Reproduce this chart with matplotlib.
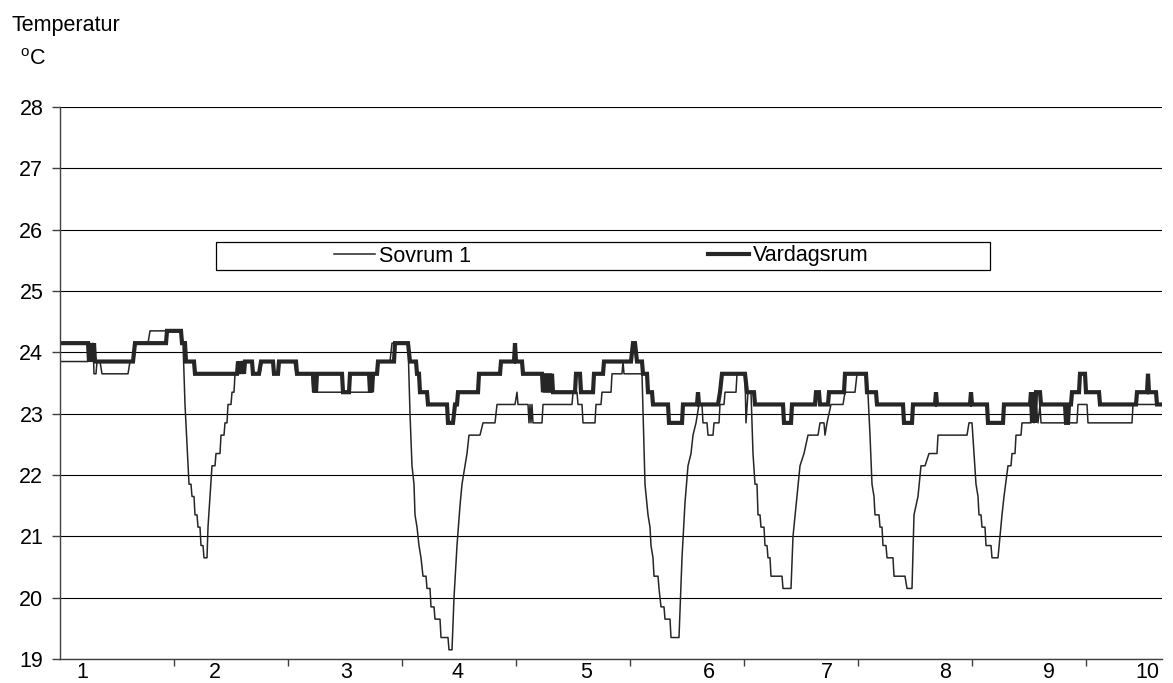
import numpy as np
import matplotlib.pyplot as plt
from matplotlib.patches import Rectangle

plt.rcParams['font.family'] = ['Liberation Sans', 'DejaVu Sans']

# Mätserier: (mätpunkt, temperatur °C), brytpunkter i loggningen
sovrum_t = [
    60, 88, 90, 91, 93, 94, 96, 97, 100, 102, 128, 130, 134, 135, 148, 150,
    181, 183, 185, 188, 189, 191, 192, 194, 195, 197, 198, 200, 201, 203, 204, 207,
    208, 210, 212, 215, 216, 220, 221, 224, 225, 227, 228, 231, 232, 234, 235, 237,
    238, 240, 241, 252, 254, 260, 262, 273, 275, 277, 279, 294, 296, 312, 313,
    372, 374, 377, 378, 390, 392, 407,
    408, 410, 412, 414, 415, 417, 419, 421, 423, 426, 427, 430, 431, 434, 435, 440,
    441, 448, 449, 452, 454, 457, 460, 462, 465, 467, 469, 480, 483, 495, 497, 515,
    517, 518, 528, 529, 530, 531, 532, 533, 542, 543,
    572, 573, 577, 578, 582, 583, 595, 596, 601, 602, 611, 612, 622, 623, 624, 642,
    645, 648, 650, 651, 653, 654, 658, 659, 661, 664, 665, 670, 671, 679, 682, 685,
    688, 691, 693, 696, 699, 702, 703, 707, 708, 713, 714, 719, 720, 724, 725, 736,
    737, 745, 746, 748, 751,
    753, 755, 757, 758, 760, 761, 764, 765, 767, 768, 770, 771, 782, 783, 791, 793,
    797, 800, 804, 808, 818, 820, 824, 825, 827, 831, 843, 845, 855, 857, 867,
    870, 872, 874, 875, 879, 880, 882, 883, 886, 887, 893, 894, 905, 907, 912, 914,
    918, 921, 925, 929, 937, 938, 967, 969, 972,
    974, 976, 978, 979, 981, 982, 985, 986, 991, 992, 998, 1002, 1004, 1008, 1011, 1012,
    1015, 1016, 1021, 1022, 1031, 1032, 1034, 1036, 1038, 1040, 1041, 1077, 1078, 1087,
    1088, 1132, 1133, 1162,
]
sovrum_temp = [
    23.85, 23.85, 24.15, 23.85, 24.15, 23.65, 23.65, 23.85, 23.85, 23.65, 23.65, 23.85, 23.85, 24.15, 24.15, 24.35,
    24.35, 24.15, 23.15, 22.15, 21.85, 21.85, 21.65, 21.65, 21.35, 21.35, 21.15, 21.15, 20.85, 20.85, 20.65, 20.65,
    21.15, 21.65, 22.15, 22.15, 22.35, 22.35, 22.65, 22.65, 22.85, 22.85, 23.15, 23.15, 23.35, 23.35, 23.65, 23.65,
    23.85, 23.65, 23.85, 23.85, 23.65, 23.65, 23.85, 23.85, 23.65, 23.65, 23.85, 23.85, 23.65, 23.65, 23.35,
    23.35, 23.65, 23.65, 23.85, 23.85, 24.15, 24.15,
    24.15, 23.0, 22.15, 21.85, 21.35, 21.15, 20.85, 20.65, 20.35, 20.35, 20.15, 20.15, 19.85, 19.85, 19.65, 19.65,
    19.35, 19.35, 19.15, 19.15, 20.0, 20.85, 21.5, 21.85, 22.15, 22.35, 22.65, 22.65, 22.85, 22.85, 23.15, 23.15,
    23.35, 23.15, 23.15, 22.85, 23.15, 22.85, 23.15, 22.85, 22.85, 23.15,
    23.15, 23.35, 23.35, 23.15, 23.15, 22.85, 22.85, 23.15, 23.15, 23.35, 23.35, 23.65, 23.65, 23.85, 23.65, 23.65,
    21.85, 21.35, 21.15, 20.85, 20.65, 20.35, 20.35, 20.15, 19.85, 19.85, 19.65, 19.65, 19.35, 19.35, 20.65, 21.55,
    22.15, 22.35, 22.65, 22.85, 23.15, 23.15, 22.85, 22.85, 22.65, 22.65, 22.85, 22.85, 23.15, 23.15, 23.35, 23.35,
    23.65, 23.65, 22.85, 23.35, 23.35,
    22.35, 21.85, 21.85, 21.35, 21.35, 21.15, 21.15, 20.85, 20.85, 20.65, 20.65, 20.35, 20.35, 20.15, 20.15, 21.0,
    21.65, 22.15, 22.35, 22.65, 22.65, 22.85, 22.85, 22.65, 22.85, 23.15, 23.15, 23.35, 23.35, 23.65, 23.65,
    22.65, 21.85, 21.65, 21.35, 21.35, 21.15, 21.15, 20.85, 20.85, 20.65, 20.65, 20.35, 20.35, 20.15, 20.15, 21.35,
    21.65, 22.15, 22.15, 22.35, 22.35, 22.65, 22.65, 22.85, 22.85,
    22.35, 21.85, 21.65, 21.35, 21.35, 21.15, 21.15, 20.85, 20.85, 20.65, 20.65, 21.35, 21.65, 22.15, 22.15, 22.35,
    22.35, 22.65, 22.65, 22.85, 22.85, 23.15, 22.85, 23.15, 22.85, 23.15, 22.85, 22.85, 23.15, 23.15,
    22.85, 22.85, 23.15, 23.15,
]

vardag_t = [
    60, 88, 89, 90, 91, 92, 93, 94, 95, 133, 135, 166, 167, 181, 182, 185, 186, 194, 195,
    237, 238, 240, 241, 244, 245, 252, 253, 259, 261, 273, 274, 278, 279, 296, 297,
    313, 314, 315, 316, 317, 342, 343, 349, 350, 369, 370, 371, 372, 373, 377, 378,
    394, 395, 408, 410, 416, 417, 419, 420, 427, 428, 447, 448, 453, 455, 457, 458,
    478, 479, 500, 501, 514, 515, 516, 522, 523,
    542, 543, 544, 545, 546, 547, 548, 549, 550, 551, 552, 553,
    575, 576, 580, 581, 593, 594, 603, 604, 631, 633, 635, 637, 642, 643, 647, 648, 652, 653,
    668, 669, 682, 683, 697, 698, 699, 718, 720, 722, 745, 747, 754, 755,
    783, 784, 791, 792, 815, 816, 819, 820, 828, 829, 844, 845, 866, 867, 876, 877,
    903, 904, 912, 913, 935, 936, 937, 970, 971, 972, 987, 988, 1003, 1004,
    1030, 1031, 1032, 1033, 1035, 1036, 1040, 1041, 1065, 1066, 1068, 1069, 1071, 1072,
    1079, 1080, 1085, 1086, 1099, 1100, 1136, 1137, 1147, 1148, 1149, 1156, 1157, 1162,
]
vardag_temp = [
    24.15, 24.15, 23.85, 24.15, 23.85, 24.15, 23.85, 24.15, 23.85, 23.85, 24.15, 24.15, 24.35, 24.35, 24.15, 24.15, 23.85, 23.85, 23.65,
    23.65, 23.85, 23.65, 23.85, 23.65, 23.85, 23.85, 23.65, 23.65, 23.85, 23.85, 23.65, 23.65, 23.85, 23.85, 23.65,
    23.65, 23.35, 23.65, 23.35, 23.65, 23.65, 23.35, 23.35, 23.65, 23.65, 23.35, 23.65, 23.35, 23.65, 23.65, 23.85,
    23.85, 24.15, 24.15, 23.85, 23.85, 23.65, 23.65, 23.35, 23.35, 23.15, 23.15, 22.85, 22.85, 23.15, 23.15, 23.35,
    23.35, 23.65, 23.65, 23.85, 23.85, 24.15, 23.85, 23.85, 23.65,
    23.65, 23.35, 23.65, 23.35, 23.65, 23.35, 23.65, 23.35, 23.65, 23.35, 23.65, 23.35,
    23.35, 23.65, 23.65, 23.35, 23.35, 23.65, 23.65, 23.85, 23.85, 24.15, 24.15, 23.85, 23.85, 23.65, 23.65, 23.35, 23.35, 23.15,
    23.15, 22.85, 22.85, 23.15, 23.15, 23.35, 23.15, 23.15, 23.35, 23.65, 23.65, 23.35, 23.35, 23.15,
    23.15, 22.85, 22.85, 23.15, 23.15, 23.35, 23.35, 23.15, 23.15, 23.35, 23.35, 23.65, 23.65, 23.35, 23.35, 23.15,
    23.15, 22.85, 22.85, 23.15, 23.15, 23.35, 23.15, 23.15, 23.35, 23.15, 23.15, 22.85, 22.85, 23.15,
    23.15, 23.35, 22.85, 23.35, 22.85, 23.35, 23.35, 23.15, 23.15, 22.85, 22.85, 23.15, 23.15, 23.35,
    23.35, 23.65, 23.65, 23.35, 23.35, 23.15, 23.15, 23.35, 23.35, 23.65, 23.35, 23.35, 23.15, 23.15,
]

# Kategoriaxel: tickmarkeringar och etiketter (mätpunkt)
tick_pos = [174, 288, 402, 516, 630, 744, 858, 972, 1086]
label_pos = [82, 215, 346, 458, 586, 709, 827, 945, 1049, 1147]
labels = ['1', '2', '3', '4', '5', '6', '7', '8', '9', '10']

W, H = 1173, 683
fig = plt.figure(figsize=(W / 100, H / 100), dpi=100)
ax = fig.add_axes([60 / W, (H - 659) / H, 1102 / W, 552 / H])

line_col = '#262626'
l_sov, = ax.plot(sovrum_t, sovrum_temp, color=line_col, lw=1.1, label='Sovrum 1')
l_var, = ax.plot(vardag_t, vardag_temp, color=line_col, lw=3.0, label='Vardagsrum',
                 solid_joinstyle='miter')

ax.set_xlim(60, 1162)
ax.set_ylim(19, 28)
ax.set_yticks(range(19, 29))
ax.yaxis.grid(True, color='black', lw=0.8)
ax.set_axisbelow(True)

for s in ['top', 'right']:
    ax.spines[s].set_visible(False)
for s in ['left', 'bottom']:
    ax.spines[s].set_color('#404040')
    ax.spines[s].set_linewidth(1.0)

ax.set_xticks(tick_pos)
ax.set_xticklabels([])
ax.set_xticks(label_pos, labels, minor=True)
ax.tick_params(axis='x', which='major', length=5, width=1, color='#404040')
ax.tick_params(axis='x', which='minor', length=0, pad=2, labelsize=15.5)
ax.tick_params(axis='y', length=6, width=1, color='#404040', pad=6, labelsize=15.5)

# Axelrubrik uppe till vänster
fig.text(11 / W, 1 - 31 / H, 'Temperatur', fontsize=15.5, va='baseline')
fig.text(20 / W, 1 - 65 / H, r'$^{\mathregular{o}}$C', fontsize=15.5, va='baseline')

# Förklaring i ruta
box = Rectangle((216 / W, 1 - 270 / H), (990 - 216) / W, 28 / H, transform=fig.transFigure,
                facecolor='white', edgecolor='black', lw=0.9, zorder=5)
fig.patches.append(box)
leg1 = fig.legend([l_sov], ['Sovrum 1'], loc='center left', bbox_to_anchor=(334 / W, 1 - 256 / H),
                  frameon=False, fontsize=15.5, handlelength=1.9, handletextpad=0.2,
                  borderpad=0, borderaxespad=0)
leg2 = fig.legend([l_var], ['Vardagsrum'], loc='center left', bbox_to_anchor=(708 / W, 1 - 256 / H),
                  frameon=False, fontsize=15.5, handlelength=1.9, handletextpad=0.2,
                  borderpad=0, borderaxespad=0)
leg1.set_zorder(6)
leg2.set_zorder(6)

plt.savefig('out.png', dpi=100)
